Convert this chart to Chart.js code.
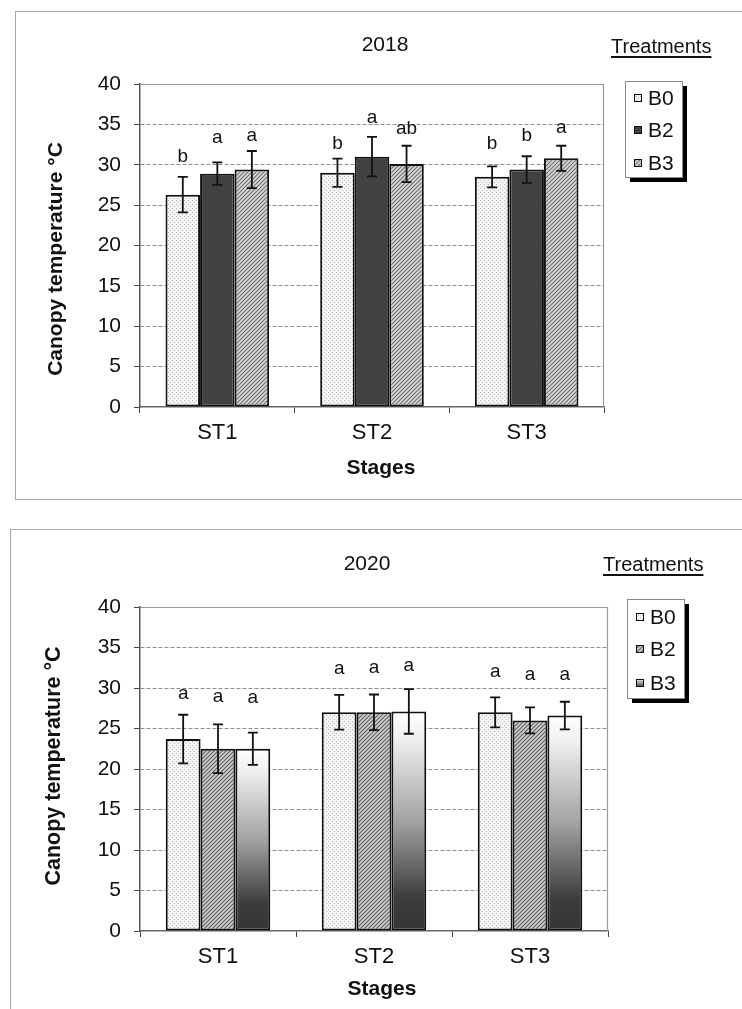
<!DOCTYPE html>
<html><head><meta charset="utf-8">
<script src="https://cdn.jsdelivr.net/npm/chart.js@4.4.1/dist/chart.umd.min.js"></script>
<style>
html,body{margin:0;padding:0;background:#fff;}
body{width:742px;height:1009px;overflow:hidden;position:relative;font-family:"Liberation Sans",Arial,sans-serif;color:#111;}
.panel{position:absolute;border:1px solid #a8a8a8;}
canvas.cv{position:absolute;left:0;}
.t{position:absolute;white-space:nowrap;transform:translate(-50%,-50%);line-height:1;}
.tl{position:absolute;white-space:nowrap;line-height:1;text-decoration:underline;text-underline-offset:3px;}
.rot{transform:translate(-50%,-50%) rotate(-90deg);font-weight:bold;}
.b{font-weight:bold;}
</style>
</head><body>
<div class="panel" style="left:15px;top:11px;width:800px;height:487px;"></div>
<div class="panel" style="left:10px;top:529px;width:800px;height:600px;"></div>
<canvas id="c1" class="cv" width="742" height="505" style="top:0;width:742px;height:505px;"></canvas>
<canvas id="c2" class="cv" width="742" height="504" style="top:505px;width:742px;height:504px;"></canvas>

<div class="t" style="left:385px;top:43px;font-size:21px;">2018</div>
<div class="tl" style="left:611px;top:36px;font-size:20px;">Treatments</div>
<div class="t rot" style="left:54px;top:259px;font-size:21px;">Canopy temperature °C</div>
<div class="t b" style="left:381px;top:466px;font-size:21px;">Stages</div>

<div class="t" style="left:367px;top:562px;font-size:21px;">2020</div>
<div class="tl" style="left:603px;top:554px;font-size:20px;">Treatments</div>
<div class="t rot" style="left:54px;top:766px;font-size:21.5px;">Canopy temperature °C</div>
<div class="t b" style="left:382px;top:987px;font-size:21px;">Stages</div>

<script>
// ---------------- DATA ----------------
const categories = ["ST1", "ST2", "ST3"];
const treatments = ["B0", "B2", "B3"];
const yTicks = [0, 5, 10, 15, 20, 25, 30, 35, 40];

// 2018
const mean2018_B0 = [26.3, 29.0, 28.5];
const mean2018_B2 = [28.9, 31.0, 29.4];
const mean2018_B3 = [29.4, 30.1, 30.8];
const err2018_B0 = [2.2, 1.75, 1.3];
const err2018_B2 = [1.4, 2.45, 1.65];
const err2018_B3 = [2.3, 2.25, 1.55];
const letters2018_B0 = ["b", "b", "b"];
const letters2018_B2 = ["a", "a", "b"];
const letters2018_B3 = ["a", "ab", "a"];
const letterY2018_B0 = [30.4, 31.95, 31.9];
const letterY2018_B2 = [32.7, 35.2, 32.9];
const letterY2018_B3 = [32.9, 33.8, 33.9];

// 2020
const mean2020_B0 = [23.7, 27.0, 27.0];
const mean2020_B2 = [22.5, 27.0, 26.0];
const mean2020_B3 = [22.5, 27.1, 26.6];
const err2020_B0 = [3.0, 2.15, 1.85];
const err2020_B2 = [3.0, 2.2, 1.6];
const err2020_B3 = [2.0, 2.75, 1.7];
const letters2020_B0 = ["a", "a", "a"];
const letters2020_B2 = ["a", "a", "a"];
const letters2020_B3 = ["a", "a", "a"];
const letterY2020_B0 = [28.7, 31.7, 31.3];
const letterY2020_B2 = [28.3, 31.85, 31.0];
const letterY2020_B3 = [28.1, 32.05, 31.0];

// ---------------- STYLES ----------------
Chart.defaults.font.family = '"Liberation Sans", Arial, sans-serif';
Chart.defaults.color = '#111';

const tmpCtx = document.createElement('canvas').getContext('2d');
function dotsPattern() {
  const c = document.createElement('canvas'); c.width = 4; c.height = 4;
  const x = c.getContext('2d');
  x.fillStyle = '#f4f4f4'; x.fillRect(0, 0, 4, 4);
  x.fillStyle = '#b8b8b8'; x.fillRect(0, 0, 1, 1); x.fillRect(2, 2, 1, 1);
  return tmpCtx.createPattern(c, 'repeat');
}
function hatchPattern(bg, fg) {
  const n = 4;
  const c = document.createElement('canvas'); c.width = n; c.height = n;
  const x = c.getContext('2d');
  x.fillStyle = bg; x.fillRect(0, 0, n, n);
  x.strokeStyle = fg; x.lineWidth = 1.1;
  x.beginPath();
  x.moveTo(0, n); x.lineTo(n, 0);
  x.moveTo(-1, 1); x.lineTo(1, -1);
  x.moveTo(n - 1, n + 1); x.lineTo(n + 1, n - 1);
  x.stroke();
  return tmpCtx.createPattern(c, 'repeat');
}
function gradientFill(ctx, y0, y1) {
  const g = ctx.createLinearGradient(0, y0, 0, y1);
  g.addColorStop(0, '#ffffff');
  g.addColorStop(0.12, '#f0f0f0');
  g.addColorStop(0.5, '#a2a2a2');
  g.addColorStop(0.85, '#3c3c3c');
  g.addColorStop(1, '#353535');
  return g;
}
const FILL_DOTS = dotsPattern();
const FILL_DARK = '#414141';
const FILL_HATCH_A = hatchPattern('#d8d8d8', '#707070');
const FILL_HATCH_B = hatchPattern('#cfcfcf', '#5e5e5e');

// ---------------- PLUGINS ----------------
const extrasPlugin = {
  id: 'extras',
  beforeDatasetsDraw(chart) {
    const {ctx, chartArea: a} = chart;
    ctx.save();
    ctx.strokeStyle = '#9a9a9a'; ctx.lineWidth = 1.2;
    ctx.beginPath();
    ctx.moveTo(a.left, a.top + 0.5); ctx.lineTo(a.right, a.top + 0.5);
    ctx.moveTo(a.right - 0.5, a.top); ctx.lineTo(a.right - 0.5, a.bottom);
    ctx.stroke();
    ctx.restore();
  },
  afterDatasetsDraw(chart) {
    const {ctx} = chart;
    const ys = chart.scales.y;
    const cfg = chart.options.plugins.extras;
    chart.data.datasets.forEach((ds, di) => {
      const meta = chart.getDatasetMeta(di);
      meta.data.forEach((el, i) => {
        const v = ds.data[i], e = ds.errors[i];
        const yt = ys.getPixelForValue(v + e), yb = ys.getPixelForValue(v - e);
        ctx.save();
        ctx.strokeStyle = '#111'; ctx.lineWidth = 1.8;
        ctx.beginPath();
        ctx.moveTo(el.x, yt); ctx.lineTo(el.x, yb);
        ctx.moveTo(el.x - 5, yt); ctx.lineTo(el.x + 5, yt);
        ctx.moveTo(el.x - 5, yb); ctx.lineTo(el.x + 5, yb);
        ctx.stroke();
        ctx.fillStyle = '#111';
        ctx.font = '19px "Liberation Sans", Arial, sans-serif';
        ctx.textAlign = 'center'; ctx.textBaseline = 'alphabetic';
        ctx.fillText(ds.letters[i], el.x, ys.getPixelForValue(ds.letterY[i]));
        ctx.restore();
      });
    });
    // legend
    const L = cfg.legend;
    ctx.save();
    ctx.fillStyle = '#000';
    ctx.fillRect(L.x + 5, L.y + 5, L.w, L.h);
    ctx.fillStyle = '#fff';
    ctx.fillRect(L.x, L.y, L.w, L.h);
    ctx.strokeStyle = '#8a8a8a'; ctx.lineWidth = 1;
    ctx.strokeRect(L.x + 0.5, L.y + 0.5, L.w, L.h);
    chart.data.datasets.forEach((ds, di) => {
      const cy = L.y + L.rowY[di];
      const mx = L.x + 9, my = cy - 4, ms = 8;
      let f = ds.legendFill;
      if (f === 'gradient') {
        f = ctx.createLinearGradient(0, my, 0, my + ms);
        f.addColorStop(0, '#f4f4f4'); f.addColorStop(1, '#3a3a3a');
      }
      ctx.fillStyle = f;
      ctx.fillRect(mx, my, ms, ms);
      ctx.strokeStyle = '#111'; ctx.lineWidth = 1;
      ctx.strokeRect(mx + 0.5, my + 0.5, ms - 1, ms - 1);
      ctx.fillStyle = '#111';
      ctx.font = '21px "Liberation Sans", Arial, sans-serif';
      ctx.textAlign = 'left'; ctx.textBaseline = 'middle';
      ctx.fillText(ds.label, L.x + 23, cy + 1);
    });
    ctx.restore();
  }
};

function makeChart(id, pad, means, errs, letters, letterY, fills, legend) {
  const datasets = treatments.map((t, k) => {
    const f = fills[k];
    return {
      label: t,
      data: means[k],
      errors: errs[k],
      letters: letters[k],
      letterY: letterY[k],
      legendFill: f,
      backgroundColor: f === 'gradient'
        ? (c) => {
            const ys = c.chart.scales.y;
            if (!ys || c.raw === undefined) return '#999';
            const y0 = ys.getPixelForValue(c.raw), y1 = ys.getPixelForValue(0);
            if (!isFinite(y0) || !isFinite(y1) || y1 <= y0) return '#999';
            return gradientFill(c.chart.ctx, y0, y1);
          }
        : f,
      borderColor: '#111',
      borderWidth: 2,
      borderSkipped: false,
      categoryPercentage: 0.67,
      barPercentage: 1.0
    };
  });
  return new Chart(document.getElementById(id), {
    type: 'bar',
    data: {labels: categories, datasets},
    plugins: [extrasPlugin],
    options: {
      responsive: false,
      animation: false,
      events: [],
      layout: {padding: pad},
      plugins: {
        legend: {display: false},
        title: {display: false},
        tooltip: {enabled: false},
        extras: {legend}
      },
      scales: {
        x: {
          ticks: {font: {size: 22}, color: '#111', padding: 7},
          grid: {drawOnChartArea: false, offset: true, tickLength: 6, tickColor: '#444', tickWidth: 1},
          border: {color: '#666', width: 1.5},
          afterFit(s) { s.height = 40; }
        },
        y: {
          min: 0, max: 40,
          afterBuildTicks(s) { s.ticks = yTicks.map(v => ({value: v})); },
          ticks: {font: {size: 21}, color: '#111', padding: 13},
          grid: {
            color: (c) => (c.tick && (c.tick.value === 0 || c.tick.value === 40)) ? 'rgba(0,0,0,0)' : '#8f8f8f',
            lineWidth: 1, tickLength: 6, tickColor: '#444', tickWidth: 1
          },
          border: {color: '#555', width: 1.5, dash: [4, 2]},
          afterFit(s) { s.width = 100; }
        }
      }
    }
  });
}

const chart1 = makeChart('c1', {left: 40, right: 138, top: 84, bottom: 58},
  [mean2018_B0, mean2018_B2, mean2018_B3],
  [err2018_B0, err2018_B2, err2018_B3],
  [letters2018_B0, letters2018_B2, letters2018_B3],
  [letterY2018_B0, letterY2018_B2, letterY2018_B3],
  [FILL_DOTS, FILL_DARK, FILL_HATCH_A],
  {x: 625, y: 81, w: 57, h: 96, rowY: [17, 49, 82]});

const chart2 = makeChart('c2', {left: 40, right: 134, top: 102, bottom: 38},
  [mean2020_B0, mean2020_B2, mean2020_B3],
  [err2020_B0, err2020_B2, err2020_B3],
  [letters2020_B0, letters2020_B2, letters2020_B3],
  [letterY2020_B0, letterY2020_B2, letterY2020_B3],
  [FILL_DOTS, FILL_HATCH_B, 'gradient'],
  {x: 627, y: 94, w: 57, h: 99, rowY: [18, 50, 84]});
chart2.update('none');
</script>
</body></html>
